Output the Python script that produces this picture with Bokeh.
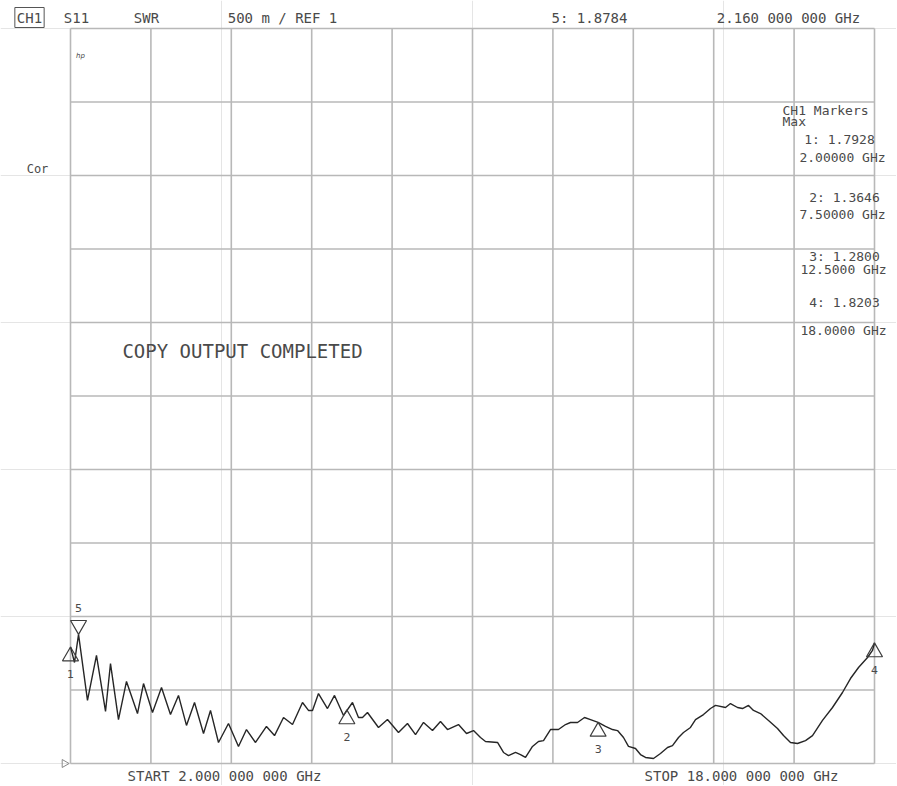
import numpy as np
from bokeh.plotting import figure
from bokeh.models import Range1d, Label
from bokeh.embed import file_html
from bokeh.resources import INLINE
from bokeh.core.properties import value

# ---------------- data ----------------
freq_ghz = [2.000, 2.080, 2.160, 2.338, 2.517, 2.697, 2.796, 2.955, 3.114, 3.333,
            3.453, 3.632, 3.811, 3.990, 4.149, 4.308, 4.468, 4.647, 4.786, 4.945,
            5.144, 5.343, 5.502, 5.682, 5.900, 6.060, 6.239, 6.418, 6.617, 6.736,
            6.816, 6.935, 7.114, 7.254, 7.433, 7.612, 7.731, 7.811, 7.910, 8.129,
            8.308, 8.527, 8.706, 8.866, 9.025, 9.204, 9.363, 9.502, 9.721, 9.881,
            10.020, 10.159, 10.259, 10.498, 10.617, 10.716, 10.856, 10.955, 11.055, 11.194,
            11.313, 11.413, 11.552, 11.711, 11.851, 11.950, 12.090, 12.229, 12.348, 12.500,
            12.647, 12.786, 12.886, 13.005, 13.104, 13.244, 13.343, 13.443, 13.602, 13.741,
            13.881, 13.980, 14.100, 14.199, 14.338, 14.438, 14.597, 14.736, 14.836, 15.035,
            15.134, 15.274, 15.373, 15.493, 15.592, 15.731, 15.891, 16.070, 16.189, 16.328,
            16.468, 16.627, 16.766, 16.965, 17.164, 17.363, 17.522, 17.682, 17.861, 17.960, 18.000]
swr = [1.793, 1.687, 1.878, 1.429, 1.735, 1.354, 1.680, 1.299, 1.558, 1.340,
       1.544, 1.347, 1.517, 1.333, 1.463, 1.259, 1.415, 1.204, 1.361, 1.143,
       1.272, 1.116, 1.231, 1.143, 1.252, 1.190, 1.313, 1.265, 1.415, 1.361,
       1.361, 1.476, 1.374, 1.463, 1.327, 1.415, 1.313, 1.313, 1.347, 1.245,
       1.299, 1.211, 1.272, 1.197, 1.279, 1.224, 1.286, 1.231, 1.265, 1.204,
       1.224, 1.177, 1.150, 1.143, 1.075, 1.054, 1.075, 1.061, 1.041, 1.116,
       1.150, 1.156, 1.231, 1.231, 1.265, 1.279, 1.279, 1.313, 1.299, 1.280,
       1.252, 1.231, 1.224, 1.177, 1.116, 1.102, 1.061, 1.041, 1.034, 1.068,
       1.109, 1.122, 1.177, 1.211, 1.245, 1.299, 1.333, 1.374, 1.395, 1.381,
       1.408, 1.381, 1.374, 1.395, 1.361, 1.340, 1.293, 1.238, 1.190, 1.143,
       1.136, 1.156, 1.190, 1.293, 1.381, 1.483, 1.578, 1.653, 1.721, 1.769, 1.820]

marker_ids = ["1", "2", "3", "4"]
marker_freq = [2.0, 7.5, 12.5, 18.0]
marker_swr = [1.7928, 1.3646, 1.2800, 1.8203]
marker5_id = ["5"]
marker5_freq = [2.16]
marker5_swr = [1.8784]

x_grid_ticks = [2.0, 3.6, 5.2, 6.8, 8.4, 10.0, 11.6, 13.2, 14.8, 16.4, 18.0]
y_grid_ticks = [1.0, 1.5, 2.0, 2.5, 3.0, 3.5, 4.0, 4.5, 5.0, 5.5, 6.0]

header_texts = ["CH1", "S11", "SWR", "500 m / REF 1", "5: 1.8784", "2.160 000 000 GHz"]
marker_table = ["CH1 Markers", "Max", "1: 1.7928", "2.00000 GHz", "2: 1.3646", "7.50000 GHz",
                "3: 1.2800", "12.5000 GHz", "4: 1.8203", "18.0000 GHz"]
start_text = "START 2.000 000 000 GHz"
stop_text = "STOP 18.000 000 000 GHz"
status_text = "COPY OUTPUT COMPLETED"

# ---------------- layout ----------------
W, H = 896, 785
GL, GR, GT, GB = 70, 874, 28, 763          # graticule box in figure pixels
kx = (18.0 - 2.0) / (GR - GL)
ky = (6.0 - 1.0) / (GB - GT)

TXT = "#4a4a4a"
GRID = "#b8b8b8"
MONO = "DejaVu Sans Mono"

p = figure(width=W, height=H, output_backend="svg", toolbar_location=None,
           x_axis_location=None, y_axis_location=None,
           x_range=Range1d(2.0 - GL * kx, 18.0 + (W - GR) * kx),
           y_range=Range1d(1.0 - (H - GB) * ky, 6.0 + GT * ky),
           min_border=0, min_border_left=0, min_border_right=0,
           min_border_top=0, min_border_bottom=0)
p.outline_line_color = None
p.background_fill_color = "white"
p.border_fill_color = "white"

# graticule (10 x 10 divisions)
x_lo, x_hi = x_grid_ticks[0], x_grid_ticks[-1]
y_lo, y_hi = y_grid_ticks[0], y_grid_ticks[-1]
p.segment(x0=x_grid_ticks, x1=x_grid_ticks, y0=[y_lo] * len(x_grid_ticks),
          y1=[y_hi] * len(x_grid_ticks), line_color=GRID, line_width=1.6)
p.segment(x0=[x_lo] * len(y_grid_ticks), x1=[x_hi] * len(y_grid_ticks),
          y0=y_grid_ticks, y1=y_grid_ticks, line_color=GRID, line_width=1.6)

# trace
p.line(freq_ghz, swr, line_color="#262626", line_width=1.4)

# marker triangles: apex on the trace
tri_h = 16 * np.sqrt(3) / 2
off = (2 * tri_h / 3) * ky
p.scatter(marker_freq, np.array(marker_swr) - off, marker="triangle", size=16,
          fill_color=None, line_color="#3c3c3c", line_width=1.2)
p.scatter(marker5_freq, np.array(marker5_swr) + off, marker="inverted_triangle", size=16,
          fill_color=None, line_color="#3c3c3c", line_width=1.2)
p.text(marker_freq, marker_swr, text=marker_ids, y_offset=27, text_align="center",
       text_baseline="middle", text_font=value("DejaVu Sans"), text_font_size="11px",
       text_color=TXT)
p.text(marker5_freq, marker5_swr, text=marker5_id, y_offset=-26, text_align="center",
       text_baseline="middle", text_font=value("DejaVu Sans"), text_font_size="11px",
       text_color=TXT)

# reference level indicator
p.scatter([2.0 - 6 * kx], [1.0], marker="triangle", angle=-np.pi / 2, size=8,
          fill_color=None, line_color="#888888", line_width=1)


def lab(text, ix, iy, size="14px", align="center", font=MONO, **kw):
    p.add_layout(Label(x=ix, y=H - iy, x_units="screen", y_units="screen",
                       text=text, text_align=align, text_baseline="middle",
                       text_font_size=size, text_font=font, text_color=TXT, **kw))


hdr_pos = [(29, 17), (76, 17), (146, 17), (282, 17), (589, 17), (788, 17)]
for t, (ix, iy) in zip(header_texts, hdr_pos):
    if t == "CH1":
        lab(t, ix, iy, border_line_color="#555555", border_line_width=1, padding=2)
    else:
        lab(t, ix, iy)

lab("Cor", 37, 168, size="12px")
lab("hp", 80, 55, size="7px", font="DejaVu Sans", text_font_style="italic")

mk_pos = [(838, 110), (793, 121), (839, 139), (842, 157), (844, 197), (842, 214),
          (844, 256), (843, 269), (844, 302), (843, 330)]
for t, (ix, iy) in zip(marker_table, mk_pos):
    if t in ("CH1 Markers", "Max"):
        lab(t, 782, iy, size="13px", align="left")
    else:
        lab(t, ix, iy, size="13px")

lab(status_text, 242, 350, size="19px")
lab(start_text, 224, 775)
lab(stop_text, 741, 775)

open("out.html", "w").write(file_html(p, INLINE))
